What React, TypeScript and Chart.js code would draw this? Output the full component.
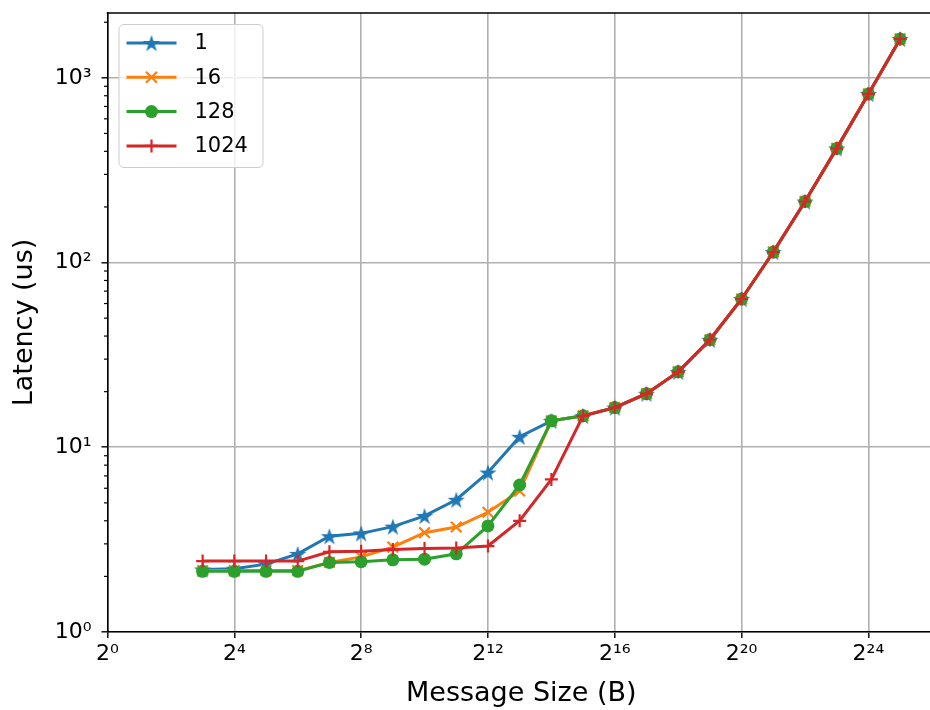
import React, { useEffect, useRef } from 'react';
import { Chart, registerables } from 'chart.js';
Chart.register(...registerables);

// Message sizes in bytes (2^3 .. 2^25)
const sizes = [8, 16, 32, 64, 128, 256, 512, 1024, 2048, 4096, 8192, 16384, 32768, 65536, 131072, 262144, 524288, 1048576, 2097152, 4194304, 8388608, 16777216, 33554432];

const lat1 = [2.18, 2.2, 2.33, 2.65, 3.3, 3.42, 3.72, 4.25, 5.2, 7.3, 11.4, 13.9, 14.8, 16.4, 19.5, 25.6, 38.2, 63.5, 114, 214, 415, 818, 1625];
const lat16 = [2.15, 2.15, 2.15, 2.15, 2.38, 2.55, 2.88, 3.45, 3.7, 4.45, 5.8, 13.9, 14.8, 16.4, 19.5, 25.6, 38.2, 63.5, 114, 214, 415, 818, 1625];
const lat128 = [2.13, 2.13, 2.13, 2.13, 2.38, 2.4, 2.46, 2.48, 2.65, 3.75, 6.25, 13.9, 14.8, 16.4, 19.5, 25.6, 38.2, 63.5, 114, 214, 415, 818, 1625];
const lat1024 = [2.42, 2.42, 2.42, 2.42, 2.72, 2.74, 2.8, 2.83, 2.85, 2.92, 4.0, 6.7, 14.8, 16.4, 19.5, 25.6, 38.2, 63.5, 114, 214, 415, 818, 1625];

const seriesLabels = ['1', '16', '128', '1024'];
const seriesColors = ['#1f77b4', '#ff7f0e', '#2ca02c', '#d62728'];

const xTickValues = [1, 16, 256, 4096, 65536, 1048576, 16777216];
const xTickLabels = ['2⁰', '2⁴', '2⁸', '2¹²', '2¹⁶', '2²⁰', '2²⁴'];
const yTickValues = [1, 10, 100, 1000];
const yTickLabels = ['10⁰', '10¹', '10²', '10³'];
const yMinorTicks = [2, 3, 4, 5, 6, 7, 8, 9, 20, 30, 40, 50, 60, 70, 80, 90, 200, 300, 400, 500, 600, 700, 800, 900, 2000];

const X_MIN = 1;
const X_MAX = Math.pow(2, 26.1);
const Y_MIN = 1;
const Y_MAX = Math.pow(10, 3.351);

const FONT = "'DejaVu Sans', sans-serif";
const CANVAS_W = 947;
const CANVAS_H = 710;

function makeStar(color: string, outer: number): HTMLCanvasElement {
  const size = Math.ceil(outer * 2 + 2);
  const c = document.createElement('canvas');
  c.width = size;
  c.height = size;
  const g = c.getContext('2d')!;
  const cx = size / 2;
  const cy = size / 2 + outer * 0.1;
  const inner = outer * 0.382;
  g.beginPath();
  for (let i = 0; i < 10; i++) {
    const r = i % 2 === 0 ? outer : inner;
    const a = -Math.PI / 2 + (i * Math.PI) / 5;
    const px = cx + r * Math.cos(a);
    const py = cy + r * Math.sin(a);
    if (i === 0) g.moveTo(px, py);
    else g.lineTo(px, py);
  }
  g.closePath();
  g.fillStyle = color;
  g.fill();
  return c;
}

export default function App() {
  const ref = useRef<HTMLCanvasElement | null>(null);

  useEffect(() => {
    const canvas = ref.current;
    if (!canvas) return;
    const star = makeStar(seriesColors[0], 9);

    const extras = {
      id: 'extras',
      afterDraw(chart: any) {
        const ctx = chart.ctx;
        const area = chart.chartArea;
        const ys = chart.scales.y;
        ctx.save();
        // top spine
        ctx.strokeStyle = '#000';
        ctx.lineWidth = 1.6;
        ctx.beginPath();
        ctx.moveTo(area.left - 0.8, area.top);
        ctx.lineTo(area.right, area.top);
        ctx.stroke();
        // minor ticks on y
        ctx.lineWidth = 1.2;
        for (const v of yMinorTicks) {
          if (v < Y_MIN || v > Y_MAX) continue;
          const y = ys.getPixelForValue(v);
          ctx.beginPath();
          ctx.moveTo(area.left - 3.5, y);
          ctx.lineTo(area.left, y);
          ctx.stroke();
        }
        // legend
        const bx = area.left + 11;
        const by = area.top + 11;
        const bw = 144;
        const bh = 143;
        ctx.beginPath();
        (ctx as any).roundRect(bx + 0.5, by + 0.5, bw, bh, 5);
        ctx.fillStyle = 'rgba(255,255,255,0.8)';
        ctx.fill();
        ctx.strokeStyle = '#cccccc';
        ctx.lineWidth = 1;
        ctx.stroke();
        for (let i = 0; i < seriesLabels.length; i++) {
          const y = by + 19 + i * 34.3;
          const col = seriesColors[i];
          ctx.strokeStyle = col;
          ctx.lineWidth = 3;
          ctx.beginPath();
          ctx.moveTo(bx + 8, y);
          ctx.lineTo(bx + 58, y);
          ctx.stroke();
          const mx = bx + 33;
          if (i === 0) {
            ctx.drawImage(star, mx - star.width / 2, y - star.height / 2);
          } else if (i === 1) {
            ctx.lineWidth = 2.2;
            ctx.beginPath();
            ctx.moveTo(mx - 5.5, y - 5.5);
            ctx.lineTo(mx + 5.5, y + 5.5);
            ctx.moveTo(mx - 5.5, y + 5.5);
            ctx.lineTo(mx + 5.5, y - 5.5);
            ctx.stroke();
          } else if (i === 2) {
            ctx.fillStyle = col;
            ctx.beginPath();
            ctx.arc(mx, y, 6.5, 0, Math.PI * 2);
            ctx.fill();
          } else {
            ctx.lineWidth = 2.2;
            ctx.beginPath();
            ctx.moveTo(mx - 6.5, y);
            ctx.lineTo(mx + 6.5, y);
            ctx.moveTo(mx, y - 6.5);
            ctx.lineTo(mx, y + 6.5);
            ctx.stroke();
          }
          ctx.fillStyle = '#000';
          ctx.font = `21px ${FONT}`;
          ctx.textBaseline = 'middle';
          ctx.textAlign = 'left';
          ctx.fillText(seriesLabels[i], bx + 76, y + 1);
        }
        ctx.restore();
      },
    };

    const mk = (i: number, data: number[], extra: any) => ({
      label: seriesLabels[i],
      data: sizes.map((s, k) => ({ x: s, y: data[k] })),
      borderColor: seriesColors[i],
      backgroundColor: seriesColors[i],
      pointBackgroundColor: seriesColors[i],
      pointBorderColor: seriesColors[i],
      borderWidth: 3,
      tension: 0,
      order: 3 - i,
      ...extra,
    });

    const chart = new Chart(canvas, {
      type: 'line',
      data: {
        datasets: [
          mk(0, lat1, { pointStyle: star, pointRadius: 9 }),
          mk(1, lat16, { pointStyle: 'crossRot', pointRadius: 7.5, pointBorderWidth: 2.2 }),
          mk(2, lat128, { pointStyle: 'circle', pointRadius: 6.5, pointBorderWidth: 0 }),
          mk(3, lat1024, { pointStyle: 'cross', pointRadius: 6.5, pointBorderWidth: 2.2 }),
        ],
      },
      options: {
        responsive: false,
        animation: false,
        events: [],
        layout: { padding: { left: 0, right: 0, top: 13, bottom: 0 } },
        plugins: { legend: { display: false }, tooltip: { enabled: false } },
        scales: {
          x: {
            type: 'logarithmic',
            min: X_MIN,
            max: X_MAX,
            afterBuildTicks: (s: any) => {
              s.ticks = xTickValues.map((v) => ({ value: v }));
            },
            afterFit: (s: any) => {
              s.height = 78;
              s.paddingLeft = 0;
              s.paddingRight = 0;
              s.paddingTop = 0;
              s.paddingBottom = 0;
            },
            ticks: {
              callback: (_v: any, i: number) => xTickLabels[i],
              font: { family: FONT, size: 22 },
              color: '#000',
              padding: 3,
              maxRotation: 0,
              autoSkip: false,
            },
            grid: { color: '#b0b0b0', lineWidth: 1.6, tickLength: 6, tickColor: '#000', tickWidth: 1.4 },
            border: { color: '#000', width: 1.6 },
            title: {
              display: true,
              text: 'Message Size (B)',
              font: { family: FONT, size: 27 },
              color: '#000',
              padding: { top: 2, bottom: 0 },
            },
          },
          y: {
            type: 'logarithmic',
            min: Y_MIN,
            max: Y_MAX,
            afterBuildTicks: (s: any) => {
              s.ticks = yTickValues.map((v) => ({ value: v }));
            },
            afterFit: (s: any) => {
              s.width = 107.5;
              s.paddingLeft = 0;
              s.paddingRight = 0;
              s.paddingTop = 0;
              s.paddingBottom = 0;
            },
            ticks: {
              callback: (_v: any, i: number) => yTickLabels[i],
              font: { family: FONT, size: 22 },
              color: '#000',
              padding: 10,
              autoSkip: false,
            },
            grid: { color: '#b0b0b0', lineWidth: 1.6, tickLength: 6, tickColor: '#000', tickWidth: 1.4 },
            border: { color: '#000', width: 1.6 },
            title: {
              display: true,
              text: 'Latency (us)',
              font: { family: FONT, size: 27 },
              color: '#000',
              padding: { top: 9, bottom: 0 },
            },
          },
        },
      },
      plugins: [extras],
    } as any);

    return () => chart.destroy();
  }, []);

  return (
    <div style={{ position: 'fixed', left: 0, top: 0, width: 930, height: 710, overflow: 'hidden', background: '#fff' }}>
      <canvas ref={ref} width={CANVAS_W} height={CANVAS_H} style={{ display: 'block', width: CANVAS_W, height: CANVAS_H }} />
    </div>
  );
}
